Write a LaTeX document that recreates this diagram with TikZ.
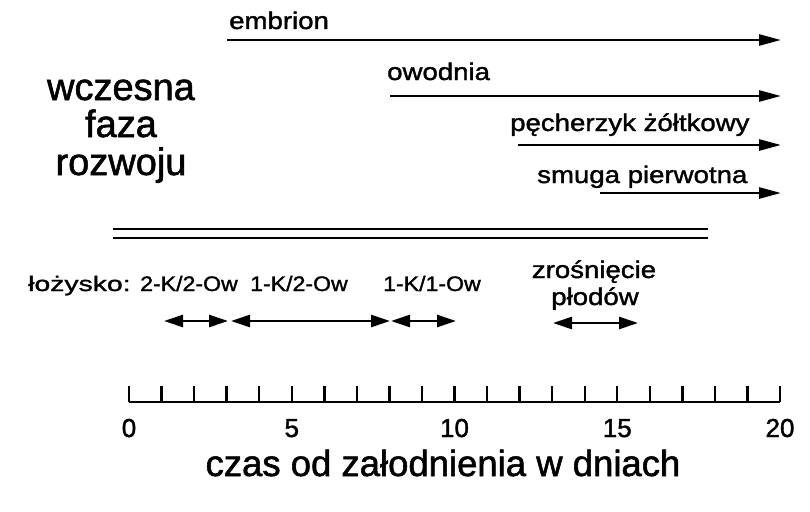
\documentclass[tikz,border=0pt]{standalone}
\usepackage{fontspec}
\setmainfont{Liberation Sans}[FakeBold=1.5]
\newfontfamily\labfont[FakeStretch=1.15,FakeBold=1.5]{Liberation Sans}
\newfontfamily\plabfont[FakeStretch=1.1,FakeBold=1.5]{Liberation Sans}
\newfontfamily\lozfont[FakeStretch=1.35,FakeBold=1.5]{Liberation Sans}
\usetikzlibrary{arrows.meta}
\tikzset{
  lbl/.style={inner sep=0pt, anchor=base west, font=\labfont\fontsize{24}{28}\selectfont},
  plbl/.style={inner sep=0pt, anchor=base west, font=\plabfont\fontsize{21}{25}\selectfont},
  lozlbl/.style={inner sep=0pt, anchor=base west, font=\lozfont\fontsize{21}{25}\selectfont},
  big/.style={inner sep=0pt, anchor=base, font=\fontsize{38}{40}\selectfont},
  num/.style={inner sep=0pt, anchor=base, font=\fontsize{26}{28}\selectfont},
  xlab/.style={inner sep=0pt, anchor=base, font=\fontsize{36.5}{40}\selectfont},
  arr/.style={line width=2.6pt, -{Triangle[length=22pt,width=11pt]}},
  darr/.style={line width=2.6pt, {Triangle[length=19pt,width=12pt]}-{Triangle[length=19pt,width=12pt]}},
  dline/.style={line width=2.2pt},
  axisline/.style={line width=2.4pt}
}
\begin{document}
\begin{tikzpicture}[x=1pt,y=-1pt]
\useasboundingbox (0,0) rectangle (810,511);
% left title
\node[big] (w1) at (121,100) {wczesna};
\node[big] (w2) at (121,137) {faza};
\node[big] (w3) at (121,175) {rozwoju};
% top labels and arrows
\node[lbl] (emb) at (229,29) {embrion};
\node[lbl] (owo) at (387,80) {owodnia};
\node[lbl] (pec) at (510,131) {pęcherzyk żółtkowy};
\node[lbl] (smu) at (537,183) {smuga pierwotna};
\coordinate (e1) at (227,40);  \coordinate (e2) at (781,40);
\coordinate (o1) at (390,96);  \coordinate (o2) at (781,96);
\coordinate (p1) at (518,145); \coordinate (p2) at (781,145);
\coordinate (s1) at (600,193); \coordinate (s2) at (781,193);
\draw[arr] (e1) -- (e2);
\draw[arr] (o1) -- (o2);
\draw[arr] (p1) -- (p2);
\draw[arr] (s1) -- (s2);
% double line
\coordinate (d1) at (113,229); \coordinate (d2) at (708,229);
\coordinate (d3) at (113,238); \coordinate (d4) at (708,238);
\draw[dline] (d1) -- (d2);
\draw[dline] (d3) -- (d4);
% placenta labels
\node[lozlbl] (loz) at (28,291) {łożysko:};
\node[plbl] (k1) at (140,291) {2-K/2-Ow};
\node[plbl] (k2) at (250,291) {1-K/2-Ow};
\node[plbl] (k3) at (383,291) {1-K/1-Ow};
\node[lbl, anchor=base] (zr) at (594,278) {zrośnięcie};
\node[lbl, anchor=base] (pl) at (595,305) {płodów};
\coordinate (a1) at (164,321); \coordinate (a2) at (228,321);
\coordinate (b1) at (231,321); \coordinate (b2) at (390,321);
\coordinate (c1) at (391,321); \coordinate (c2) at (456,321);
\coordinate (z1) at (553,323); \coordinate (z2) at (638,323);
\draw[darr] (a1) -- (a2);
\draw[darr] (b1) -- (b2);
\draw[darr] (c1) -- (c2);
\draw[darr] (z1) -- (z2);
% axis
\coordinate (x0) at (129,402); \coordinate (x20) at (780,402);
\draw[axisline] (x0) -- (x20);
\foreach \i in {0,...,20} {
  \draw[axisline] ({129+32.55*\i},386) -- ({129+32.55*\i},402);
}
\foreach \i in {0,5,10,15,20} {
  \node[num] (n\i) at ({129+32.55*\i},437) {\i};
}
\node[xlab] (xl) at (443,476) {czas od załodnienia w dniach};
\end{tikzpicture}
\end{document}
